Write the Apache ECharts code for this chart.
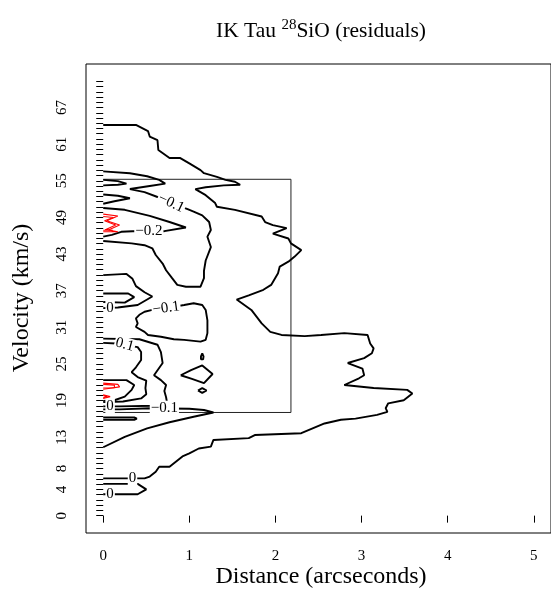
<!DOCTYPE html>
<html>
<head>
<meta charset="utf-8">
<script src="https://cdn.jsdelivr.net/npm/echarts@6/dist/echarts.min.js"></script>
<style>
html,body{margin:0;padding:0;background:#fff;}
#chart{width:551px;height:592px;}
</style>
</head>
<body>
<div id="chart"></div>
<script>
// ---- axes ----
const distanceTicks = [0, 1, 2, 3, 4, 5];
const distanceRange = [0, 5];
const channelWidth = 6 / 7;          // km/s per channel
const channelCount = 84;             // channels 0..83
const labelChannels = [0, 5, 9, 15, 22, 29, 36, 43, 50, 57, 64, 71, 78];

// ---- contour lines: [distance (arcsec), velocity (km/s)] ----
const outerZero = [[0,64.0],[0.38,64.0],[0.52,63.0],[0.54,62.1],[0.63,61.5],[0.64,59.9],[0.77,58.6],[0.89,58.6],[1.00,57.7],[1.13,56.6],[1.17,56.1],[1.32,55.5],[1.42,55.0],[1.53,54.7],[1.59,54.2],[1.40,54.1],[1.19,53.8],[1.07,53.5],[1.13,53.0],[1.19,52.5],[1.30,51.2],[1.32,50.6],[1.53,50.1],[1.84,49.0],[1.88,48.1],[1.97,47.6],[2.13,47.1],[1.97,46.2],[2.15,45.4],[2.18,44.6],[2.30,43.5],[2.22,42.4],[2.15,41.6],[2.05,40.8],[2.03,39.7],[1.95,37.8],[1.86,37.0],[1.69,36.1],[1.55,35.4],[1.72,33.7],[1.84,31.5],[1.94,30.1],[2.07,29.6],[2.34,29.4],[2.53,29.6],[2.80,29.9],[3.07,29.6],[3.10,28.2],[3.14,27.4],[3.12,26.6],[3.03,25.8],[2.84,25.0],[3.01,24.1],[3.03,23.0],[2.97,22.5],[2.80,21.4],[3.14,20.9],[3.53,20.6],[3.59,20.0],[3.49,18.9],[3.31,18.4],[3.28,17.6],[3.30,17.0],[3.18,16.5],[2.93,15.9],[2.76,15.7],[2.57,15.1],[2.30,13.5],[1.76,13.2],[1.69,12.7],[1.28,12.4],[1.25,11.3],[1.11,11.0],[1.00,10.2],[0.92,9.7],[0.77,8.0],[0.65,8.0],[0.61,7.2],[0.54,6.4],[0.48,6.1],[0,6.1]];
const smallZero = [[0,5.2],[0.40,5.2],[0.50,4.3],[0.40,3.5],[0.15,3.5],[0,3.5]];
const upperMinus01 = [[0,56.4],[0.31,56.1],[0.51,55.6],[0.65,55.0],[0.72,54.4],[0.54,54.0],[0.31,53.5],[0.48,53.0],[0.63,52.2],[0.79,51.2],[0.98,50.2],[1.05,49.8],[1.15,49.2],[1.23,48.1],[1.25,46.8],[1.21,45.7],[1.25,44.0],[1.19,41.8],[1.17,40.1],[1.17,38.9],[1.13,37.5],[0.96,37.5],[0.86,37.8],[0.80,38.9],[0.73,40.2],[0.69,41.3],[0.61,42.7],[0.57,43.8],[0.48,44.3],[0.33,44.6],[0,45.0]];
const innerTop1 = [[0,55.0],[0.17,54.8],[0.27,54.4],[0.17,54.2],[0,54.1]];
const innerTop2 = [[0,52.6],[0.17,52.4],[0.31,52.0],[0.13,51.5],[0,51.1]];
const minus02 = [[0,50.4],[0.25,50.1],[0.54,49.1],[0.77,48.1],[0.96,47.2],[0.71,46.6],[0.53,46.6],[0.34,46.6],[0.21,46.5],[0.10,46.0],[0,45.7]];
const redTop1 = [[0,49.4],[0.17,49.1],[0.04,48.3],[0.19,47.6],[0.06,46.8],[0.17,46.5],[0,46.5]];
const redTop2 = [[0,49.0],[0.12,48.85],[0.015,48.3],[0.145,47.6],[0.025,46.85],[0.11,46.75],[0,46.75]];
const zeroMid = [[0,39.4],[0.27,39.6],[0.34,38.8],[0.38,37.6],[0.48,36.6],[0.57,35.9],[0.40,34.5],[0.17,34.1],[0,34.0]];
const zeroMidInner = [[0,36.4],[0.29,36.4],[0.36,35.8],[0.25,34.9],[0,35.0]];
const minus01Mid = [[0.73,34.0],[0.57,33.7],[0.48,33.4],[0.42,32.9],[0.38,32.3],[0.40,31.5],[0.38,30.9],[0.48,30.1],[0.52,29.6],[0.67,29.3],[0.82,28.9],[0.94,28.8],[1.13,28.5],[1.19,28.8],[1.21,29.9],[1.21,32.0],[1.19,33.7],[1.15,34.5],[1.05,34.8],[0.94,34.5],[0.73,34.0]];
const zeroZig = [[0,29.0],[0.42,28.9],[0.63,28.0],[0.67,26.8],[0.69,25.0],[0.59,23.0],[0.67,22.2],[0.73,21.4],[0.71,20.4],[0.73,19.4],[0.74,18.6],[0.59,18.0],[0.19,17.9],[0,17.9]];
const plus01Zig = [[0,28.3],[0.15,28.2],[0.40,27.6],[0.44,26.8],[0.44,25.5],[0.38,24.3],[0.33,23.5],[0.40,22.7],[0.50,22.1],[0.49,20.9],[0.50,19.9],[0.44,19.2],[0.23,18.7],[0,18.6]];
const aroundRed = [[0,22.2],[0.27,22.2],[0.36,21.4],[0.33,20.6],[0.25,19.5],[0.13,18.9],[0,18.8]];
const redLow1 = [[0,21.7],[0.17,21.5],[0.19,21.1],[0.17,20.9],[0,20.7]];
const redLow2 = [[0,21.5],[0.13,21.38],[0.15,21.15],[0.13,20.95],[0,20.9]];
const redLow3 = [[0,19.8],[0.08,19.5],[0,19.2]];
const redLow4 = [[0,19.7],[0.045,19.5],[0,19.3]];
const islandDrop = [[1.15,26.6],[1.165,26.1],[1.16,25.6],[1.15,25.45],[1.135,25.6],[1.135,26.1],[1.15,26.6]];
const islandDiamond = [[0.90,23.0],[1.02,23.85],[1.15,24.6],[1.27,23.2],[1.17,21.7],[1.03,22.4],[0.90,23.0]];
const islandOval = [[1.10,20.5],[1.15,20.9],[1.20,20.5],[1.15,20.1],[1.10,20.5]];
const lowerMinus01 = [[0,17.4],[0.19,17.4],[0.54,17.6],[1.00,17.5],[1.17,17.3],[1.28,16.9],[1.05,16.2],[0.77,15.3],[0.51,14.3],[0.25,12.9],[0,11.2]];
const lowBar = [[0,16.1],[0.36,16.1],[0.39,15.9],[0.36,15.7],[0,15.7]];
const boxRegion = [[0,55.1],[2.18,55.1],[2.18,16.9],[0,16.9]];

// contour labels: [distance, velocity, text]
const contourLabels = [
  [0.79, 51.2, '\u22120.1'],
  [0.53, 46.6, '\u22120.2'],
  [0.08, 34.0, '0'],
  [0.73, 34.0, '\u22120.1'],
  [0.25, 28.0, '0.1'],
  [0.08, 17.9, '0'],
  [0.71, 17.6, '\u22120.1'],
  [0.34, 6.1, '0'],
  [0.08, 3.5, '0']
];

// ---- build ----
const labelRotation = [-25, 0, 0, 8, -15, 0, 0, 0, 0];
const velTop = (channelCount - 1) * channelWidth;
const yMin = -0.04 * velTop, yMax = 1.04 * velTop;
const xSpan = distanceRange[1] - distanceRange[0];
const xMin = distanceRange[0] - 0.04 * xSpan, xMax = distanceRange[1] + 0.04 * xSpan;
const tickVel = [];
for (let k = 0; k < channelCount; k++) tickVel.push(k * channelWidth);
const labelVel = labelChannels.map(k => k * channelWidth);

const FONT = 'Liberation Serif, Times New Roman, serif';
const black = [outerZero, smallZero, upperMinus01, innerTop1, innerTop2, minus02, zeroMid, zeroMidInner,
  minus01Mid, zeroZig, plus01Zig, aroundRed, islandDrop, islandDiamond, islandOval, lowerMinus01, lowBar];
const red = [redTop1, redTop2, redLow1, redLow2, redLow3, redLow4];

const series = [];
black.forEach(d => series.push({type:'line', data:d, showSymbol:false, symbol:'none', animation:false,
  lineStyle:{color:'#000', width:1.9}, z:3, silent:true}));
red.forEach(d => series.push({type:'line', data:d, showSymbol:false, symbol:'none', animation:false,
  lineStyle:{color:'#ff0000', width:1.1}, z:3, silent:true}));
series.push({type:'line', data:boxRegion, showSymbol:false, symbol:'none', animation:false,
  lineStyle:{color:'#222', width:1}, z:2, silent:true});
const labelStyle = (i, text) => ({show:true, position:'inside', formatter:text, rotate:labelRotation[i],
  color:'#000', opacity:1, fontFamily:FONT, fontSize:15, backgroundColor:'#fff', padding:[0,1],
  textBorderWidth:0, align:'center', verticalAlign:'middle'});
series.push({type:'scatter', symbol:'circle', symbolSize:0, itemStyle:{color:'#fff', opacity:1}, z:6, zlevel:0,
  animation:false, silent:true, labelLayout:{hideOverlap:false},
  data: contourLabels.map((l, i) => ({value:[l[0], l[1]], label:labelStyle(i, l[2])}))});

const chart = echarts.init(document.getElementById('chart'), null, {renderer:'canvas'});
chart.setOption({
  backgroundColor:'#fff',
  animation:false,
  grid:{left:86, top:64, width:470, height:469, show:true, borderColor:'#000', borderWidth:1, backgroundColor:'transparent'},
  xAxis:{type:'value', min:xMin, max:xMax,
    axisLine:{show:false},
    axisTick:{show:true, length:7, lineStyle:{color:'#000'}, customValues:distanceTicks},
    axisLabel:{show:true, customValues:distanceTicks, margin:16, color:'#000', fontFamily:FONT, fontSize:15},
    splitLine:{show:false}},
  yAxis:{type:'value', min:yMin, max:yMax,
    axisLine:{show:false},
    axisTick:{show:true, length:7, lineStyle:{color:'#000'}, customValues:tickVel},
    axisLabel:{show:true, customValues:labelVel, rotate:90, margin:16, color:'#000', fontFamily:FONT, fontSize:15,
      formatter:v => String(Math.round(v))},
    splitLine:{show:false}},
  graphic:[
    {type:'text', x:321, y:31, style:{text:'{a|IK Tau }{s|28}{a|SiO (residuals)}', align:'center', verticalAlign:'middle',
      rich:{a:{fontFamily:FONT, fontSize:21.5, fill:'#000'}, s:{fontFamily:FONT, fontSize:15, fill:'#000', padding:[0,0,11,0]}}}},
    {type:'text', x:321, y:577, style:{text:'Distance (arcseconds)', align:'center', verticalAlign:'middle',
      font:'24px ' + FONT, fill:'#000'}},
    {type:'text', x:22, y:298, rotation:Math.PI/2, style:{text:'Velocity (km/s)', align:'center', verticalAlign:'middle',
      font:'24px ' + FONT, fill:'#000'}}
  ],
  series:series
});
</script>
</body>
</html>
